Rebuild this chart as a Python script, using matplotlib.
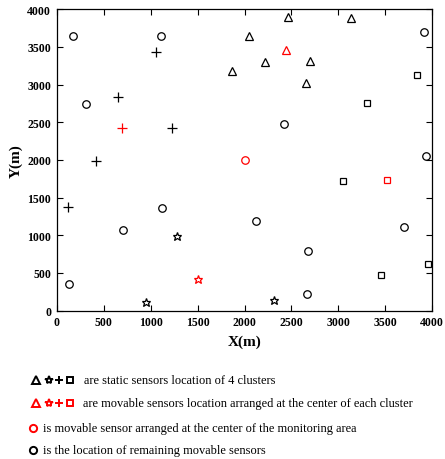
import matplotlib
matplotlib.use("Agg")
import matplotlib.pyplot as plt
from matplotlib.lines import Line2D

plt.rcParams['font.family'] = ['Liberation Serif', 'DejaVu Serif']

# static sensors of 4 clusters
tri_x = [1870, 2050, 2460, 2220, 2700, 2650, 3130]
tri_y = [3180, 3650, 3900, 3300, 3310, 3020, 3880]
star_x = [1280, 950, 2310]
star_y = [985, 110, 140]
plus_x = [1060, 650, 1230, 420, 120]
plus_y = [3430, 2840, 2420, 1990, 1380]
sq_x = [3840, 3300, 3050, 3950, 3450]
sq_y = [3120, 2757, 1720, 615, 470]

# movable sensors at cluster centers
ctri = (2440, 3460)
cstar = (1510, 415)
cplus = (700, 2420)
csq = (3520, 1730)

# movable sensor at monitoring area center
center = (2000, 2000)

# remaining movable sensors
circ_x = [170, 1110, 310, 2420, 3910, 3930, 1120, 2120, 710, 3700, 2680, 130, 2670]
circ_y = [3640, 3640, 2740, 2470, 3700, 2045, 1360, 1190, 1075, 1115, 790, 355, 220]

legend_texts = [
    "are static sensors location of 4 clusters",
    "are movable sensors location arranged at the center of each cluster",
    "is movable sensor arranged at the center of the monitoring area",
    "is the location of remaining movable sensors",
]

W, H = 445, 460
fig = plt.figure(figsize=(W / 100, H / 100), dpi=100)
ax = fig.add_axes([56.7 / W, 1 - 311.5 / H, (432.3 - 56.7) / W, (311.5 - 10.2) / H])

TRI, STAR, PLUS, SQ, CIRC = 5.8, 6.3, 6.5, 4.3, 5.4
kw = dict(linestyle='none', markerfacecolor='none', markeredgewidth=0.9)
ax.plot(tri_x, tri_y, marker='^', color='black', markersize=TRI, **kw)
ax.plot(star_x, star_y, marker='*', color='black', markersize=STAR, **kw)
ax.plot(plus_x, plus_y, marker='+', color='black', markersize=PLUS, **kw)
ax.plot(sq_x, sq_y, marker='s', color='black', markersize=SQ, **kw)
ax.plot(*ctri, marker='^', color='red', markersize=TRI, **kw)
ax.plot(*cstar, marker='*', color='red', markersize=STAR, **kw)
ax.plot(*cplus, marker='+', color='red', markersize=PLUS, **kw)
ax.plot(*csq, marker='s', color='red', markersize=SQ, **kw)
ax.plot(*center, marker='o', color='red', markersize=CIRC, **kw)
ax.plot(circ_x, circ_y, marker='o', color='black', markersize=CIRC, **kw)

ax.set_xlim(0, 4000)
ax.set_ylim(0, 4000)
ax.set_xticks(range(0, 4001, 500))
ax.set_yticks(range(0, 4001, 500))
ax.tick_params(direction='in', top=True, right=True, length=4, width=0.8,
               labelsize=8.5, pad=4)
for lab in ax.get_xticklabels() + ax.get_yticklabels():
    lab.set_fontweight('bold')
for s in ax.spines.values():
    s.set_linewidth(0.9)
ax.set_xlabel('X(m)', fontsize=11, fontweight='bold', labelpad=5)
ax.set_ylabel('Y(m)', fontsize=11, fontweight='bold', labelpad=3)

# custom legend below
def fx(px):
    return px / W

def fy(py):
    return 1 - py / H

rows_y = [381, 404, 429, 451]
mk = [('^', 5.2), ('*', 6.0), ('+', 6.0), ('s', 4.6)]
mxs = [36, 48.5, 59, 69.5]
for row, col in [(0, 'black'), (1, 'red')]:
    for (m, ms), mxp in zip(mk, mxs):
        fig.add_artist(Line2D([fx(mxp)], [fy(rows_y[row])], marker=m, color=col,
                              markersize=ms, markerfacecolor='none',
                              markeredgewidth=1.4, linestyle='none'))
for row, col in [(2, 'red'), (3, 'black')]:
    fig.add_artist(Line2D([fx(33)], [fy(rows_y[row])], marker='o', color=col,
                          markersize=5.2, markerfacecolor='none',
                          markeredgewidth=1.4, linestyle='none'))
text_x = [84, 83, 43, 43]
for t, tx, ty in zip(legend_texts, text_x, rows_y):
    fig.text(fx(tx), fy(ty), t, fontsize=8.9, va='center', ha='left')

fig.savefig('out.png', dpi=100)
